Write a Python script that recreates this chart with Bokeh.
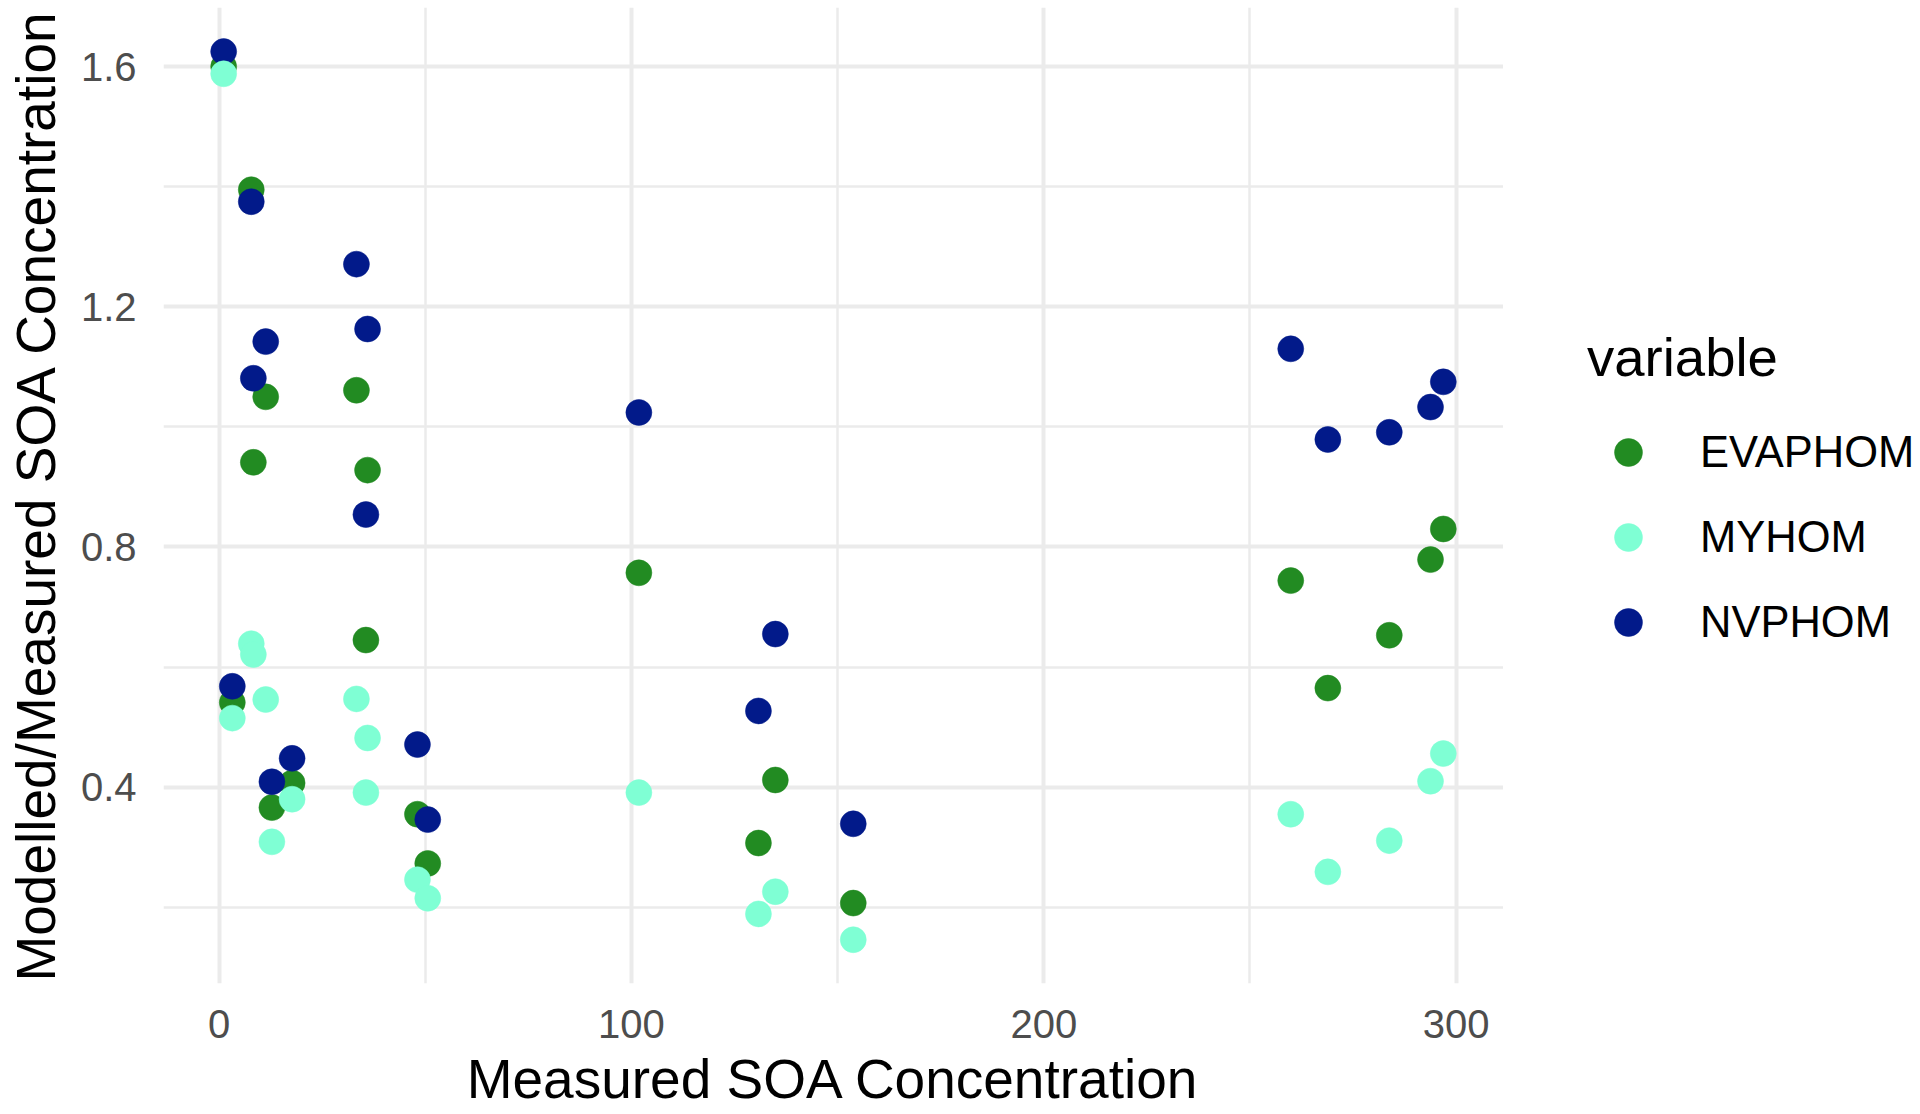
from bokeh.plotting import figure
from bokeh.layouts import row
from bokeh.models import (ColumnDataSource, Range1d, FixedTicker, Legend,
                          LegendItem)
from bokeh.embed import file_html
from bokeh.resources import INLINE

# ---- data ----
measured = [1.1, 3.2, 7.8, 8.3, 11.3, 12.8, 17.7, 33.3, 35.6, 36.0, 48.1,
            50.6, 101.8, 130.8, 134.9, 153.8, 259.9, 268.9, 283.8, 293.8, 296.9]
evaphom = [1.600, 0.541, 1.395, 0.941, 1.050, 0.366, 0.407, 1.061, 0.645, 0.928,
           0.355, 0.273, 0.757, 0.307, 0.412, 0.207, 0.744, 0.565, 0.653, 0.779, 0.830]
myhom = [1.588, 0.515, 0.639, 0.621, 0.546, 0.309, 0.380, 0.547, 0.391, 0.482,
         0.246, 0.215, 0.391, 0.189, 0.226, 0.146, 0.355, 0.259, 0.311, 0.410, 0.456]
nvphom = [1.625, 0.568, 1.375, 1.081, 1.142, 0.409, 0.448, 1.271, 0.854, 1.163,
          0.471, 0.346, 1.024, 0.527, 0.655, 0.339, 1.130, 0.979, 0.991, 1.033, 1.075]

series_names = ["EVAPHOM", "MYHOM", "NVPHOM"]
series_colors = {"EVAPHOM": "#228B22", "MYHOM": "#7FFFD4", "NVPHOM": "#021A8A"}

x_ticks = [0, 100, 200, 300]
x_minor_ticks = [50, 150, 250]
y_ticks = [0.4, 0.8, 1.2, 1.6]
y_minor_ticks = [0.2, 0.6, 1.0, 1.4]

x_title = "Measured SOA Concentration"
y_title = "Modelled/Measured SOA Concentration"
legend_title = "variable"

FONT = "Liberation Sans"
DRAW_ORDER = ["EVAPHOM", "NVPHOM", "MYHOM"]   # MYHOM drawn on top, as in the reference

source = ColumnDataSource(dict(measured=measured, EVAPHOM=evaphom,
                               MYHOM=myhom, NVPHOM=nvphom))

# ---------------- main panel ----------------
p = figure(width=1503, height=1114,
           x_range=Range1d(-13.49, 311.5), y_range=Range1d(0.0731, 1.6984),
           output_backend="svg", toolbar_location=None,
           min_border_left=163, min_border_right=0,
           min_border_top=7, min_border_bottom=131)
p.outline_line_color = None
p.background_fill_color = "white"
p.border_fill_color = "white"

for grid in (p.xgrid, p.ygrid):
    grid.grid_line_color = "#EBEBEB"
    grid.grid_line_width = 4
    grid.minor_grid_line_color = "#EBEBEB"
    grid.minor_grid_line_width = 2.5

p.xaxis.ticker = FixedTicker(ticks=x_ticks, minor_ticks=x_minor_ticks)
p.yaxis.ticker = FixedTicker(ticks=y_ticks, minor_ticks=y_minor_ticks)

for ax in (p.xaxis, p.yaxis):
    ax.axis_line_color = None
    ax.major_tick_line_color = None
    ax.minor_tick_line_color = None
    ax.major_tick_out = 0
    ax.major_tick_in = 0
    ax.minor_tick_out = 0
    ax.minor_tick_in = 0
    ax.major_label_text_font = FONT
    ax.major_label_text_font_size = "40px"
    ax.major_label_text_color = "#4D4D4D"
    ax.axis_label_text_font = FONT
    ax.axis_label_text_font_size = "55px"
    ax.axis_label_text_font_style = "normal"
    ax.axis_label_text_color = "black"

p.xaxis.axis_label = x_title
p.yaxis.axis_label = y_title
p.xaxis.major_label_standoff = 26
p.yaxis.major_label_standoff = 27
p.xaxis.axis_label_standoff = 7
p.yaxis.axis_label_standoff = 11

for name in DRAW_ORDER:
    p.scatter("measured", name, source=source, size=26,
              fill_color=series_colors[name], line_color=series_colors[name],
              line_width=0.5)

# ---------------- legend panel (right of the plot) ----------------
lg = figure(width=417, height=1114, x_range=Range1d(0, 1), y_range=Range1d(0, 1),
            x_axis_type=None, y_axis_type=None,
            output_backend="svg", toolbar_location=None,
            min_border_left=0, min_border_right=0,
            min_border_top=0, min_border_bottom=0)
lg.outline_line_color = None
lg.background_fill_color = "white"
lg.border_fill_color = "white"

key_renderers = {}
for name in series_names:
    # legend keys only: these renderers are hidden, the legend draws their glyph
    key_renderers[name] = lg.scatter("measured", name, source=source, size=26,
                                     fill_color=series_colors[name],
                                     line_color=series_colors[name],
                                     line_width=0.5, visible=False)

legend = Legend(items=[LegendItem(label=n, renderers=[key_renderers[n]])
                       for n in series_names],
                title=legend_title, location=(84, 326),
                padding=0, margin=0, spacing=15,
                glyph_width=82, glyph_height=70, label_standoff=31,
                title_standoff=28,
                border_line_color=None, background_fill_alpha=0,
                inactive_fill_alpha=0)
legend.title_text_font = FONT
legend.title_text_font_size = "54.5px"
legend.title_text_font_style = "normal"
legend.title_text_color = "black"
legend.label_text_font = FONT
legend.label_text_font_size = "43.5px"
legend.label_text_color = "black"
lg.add_layout(legend, "center")

layout = row(p, lg, spacing=0)

open("out.html", "w").write(file_html(layout, INLINE))
